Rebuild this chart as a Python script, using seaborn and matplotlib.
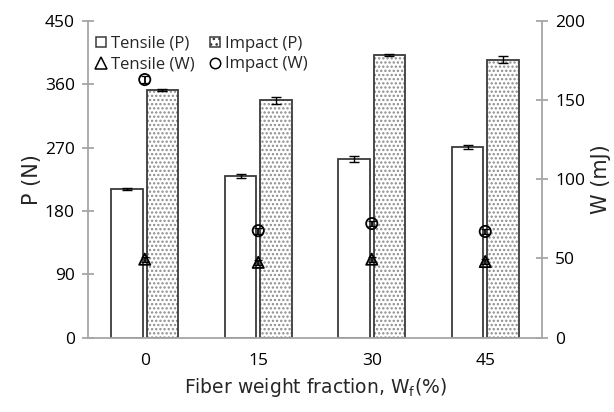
import numpy as np
import pandas as pd
import matplotlib
matplotlib.use("Agg")
import matplotlib.pyplot as plt
from matplotlib.patches import Rectangle
from matplotlib.lines import Line2D
import seaborn as sns

# ---------------- data ----------------
fractions = ["0", "15", "30", "45"]
tensile_P = [211, 230, 254, 271]
tensile_P_err = [1.5, 3, 4, 3]
impact_P = [352, 337, 402, 395]
impact_P_err = [1.5, 5, 1.5, 5]
tensile_W = [49.5, 47.5, 49.5, 48]
tensile_W_err = [1.5, 1.5, 1.5, 1.5]
impact_W = [163, 67.5, 72, 67]
impact_W_err = [2, 2, 1.5, 1.5]

series_P = ["Tensile (P)", "Impact (P)"]
series_W = ["Tensile (W)", "Impact (W)"]

dfP = pd.DataFrame({
    "fraction": fractions * 2,
    "P": tensile_P + impact_P,
    "err": tensile_P_err + impact_P_err,
    "series": [series_P[0]] * 4 + [series_P[1]] * 4,
})

# ---------------- style ----------------
sns.set_style("white")
plt.rcParams["font.family"] = ["Open Sans", "DejaVu Sans"]
plt.rcParams["hatch.linewidth"] = 1.1

spine_col = "#a6a6a6"
edge_col = "#3a3a3a"

fig = plt.figure(figsize=(6.14, 4.12), dpi=100)
ax = fig.add_axes([88 / 614, 1 - 337.5 / 412, (542 - 88) / 614, (337.5 - 21) / 412])

sns.barplot(data=dfP, x="fraction", y="P", hue="series", order=fractions,
            hue_order=series_P, palette=["white", "white"], width=0.625, gap=0.12,
            errorbar=None, edgecolor=edge_col, linewidth=1.3, legend=False, ax=ax)

bars = [p for p in ax.patches if isinstance(p, Rectangle) and p.get_width() < 1]
bars = sorted(bars, key=lambda p: p.get_x())
tens_bars = bars[0::2]
imp_bars = bars[1::2]

# dotted fill for impact bars: hatch layer in gray + dark outline overlay
for p in imp_bars:
    p.set_hatch("....")
    p.set_edgecolor("#8c8c8c")
    p.set_linewidth(0)
    ax.add_patch(Rectangle(p.get_xy(), p.get_width(), p.get_height(),
                           fill=False, edgecolor=edge_col, linewidth=1.3, zorder=p.get_zorder() + 0.1))

# error bars on P
for plist, errs in ((tens_bars, tensile_P_err), (imp_bars, impact_P_err)):
    xs = [p.get_x() + p.get_width() / 2 for p in plist]
    ys = [p.get_height() for p in plist]
    ax.errorbar(xs, ys, yerr=errs, fmt="none", ecolor="black", elinewidth=1.0,
                capsize=3.5, capthick=1.0, zorder=5)

ax.set_ylim(0, 450)
ax.set_yticks(np.arange(0, 451, 90))
ax.set_xlim(-0.5, 3.5)

# ---------------- W on right axis ----------------
ax2 = ax.twinx()
xpos = np.arange(len(fractions))
dfW = pd.DataFrame({
    "x": np.concatenate([xpos, xpos]),
    "W": tensile_W + impact_W,
    "series": [series_W[0]] * 4 + [series_W[1]] * 4,
})
ax2.errorbar(xpos, tensile_W, yerr=tensile_W_err, fmt="none", ecolor="black",
             elinewidth=0.9, capsize=3, capthick=0.9, zorder=3)
ax2.errorbar(xpos, impact_W, yerr=impact_W_err, fmt="none", ecolor="black",
             elinewidth=0.9, capsize=3, capthick=0.9, zorder=3)
sns.scatterplot(data=dfW, x="x", y="W", style="series", style_order=series_W,
                markers={"Tensile (W)": "^", "Impact (W)": "o"},
                s=[65], color="none", edgecolor="black", linewidth=1.3,
                legend=False, ax=ax2, zorder=4)
for c in ax2.collections:
    c.set_facecolor("none")
    c.set_edgecolor("black")
    c.set_linewidth(1.3)

ax2.set_ylim(0, 200)
ax2.set_yticks(np.arange(0, 201, 50))
ax2.set_xlim(-0.5, 3.5)

# ---------------- axes cosmetics ----------------
for a in (ax, ax2):
    a.spines["top"].set_visible(False)
    for s in ("left", "right", "bottom"):
        a.spines[s].set_color(spine_col)
        a.spines[s].set_linewidth(1.3)

ax.spines["right"].set_visible(False)
ax2.spines["left"].set_visible(False)
ax2.spines["bottom"].set_visible(False)

ax.set_xticks(xpos)
ax.set_xticklabels(fractions)
ax.set_xticks(np.arange(-0.5, 3.6, 1.0), minor=True)
ax.tick_params(axis="x", which="major", length=0, pad=11, labelsize=12.5, colors="black")
ax.tick_params(axis="x", which="minor", length=6, width=1.3, color=spine_col, direction="out")
ax.tick_params(axis="y", which="major", direction="inout", length=9, width=1.3,
               color=spine_col, labelsize=12.5, labelcolor="black", pad=5)
ax2.tick_params(axis="y", which="major", direction="inout", length=9, width=1.3,
                color=spine_col, labelsize=12.5, labelcolor="black", pad=5)

ax.set_xlabel(r"Fiber weight fraction, W$_\mathregular{f}$(%)", family="DejaVu Sans",
              fontsize=13.5, labelpad=5)
ax.set_ylabel("P (N)", family="DejaVu Sans", fontsize=15, labelpad=2)
ax2.set_ylabel("W (mJ)", family="DejaVu Sans", fontsize=15, rotation=90, labelpad=4)
ax2.set_xlabel("")

# ---------------- legend ----------------
handles = [
    Rectangle((0, 0), 1, 1, facecolor="white", edgecolor=edge_col, linewidth=1.1),
    Line2D([], [], linestyle="none", marker="^", markerfacecolor="none",
           markeredgecolor="black", markersize=9, markeredgewidth=1.1),
    Rectangle((0, 0), 1, 1, facecolor="white", edgecolor=edge_col, linewidth=1.1, hatch="..."),
    Line2D([], [], linestyle="none", marker="o", markerfacecolor="none",
           markeredgecolor="black", markersize=7.5, markeredgewidth=1.1),
]
labels = [series_P[0], series_W[0], series_P[1], series_W[1]]
ax2.legend(handles, labels, ncol=2, frameon=False, loc="upper left",
           bbox_to_anchor=(-0.008, 0.99), fontsize=12, handlelength=0.6, handleheight=0.6,
           handletextpad=0.3, columnspacing=0.9, labelspacing=0.28, borderaxespad=0.4,
           borderpad=0.3)

fig.savefig("out.png", dpi=100)
